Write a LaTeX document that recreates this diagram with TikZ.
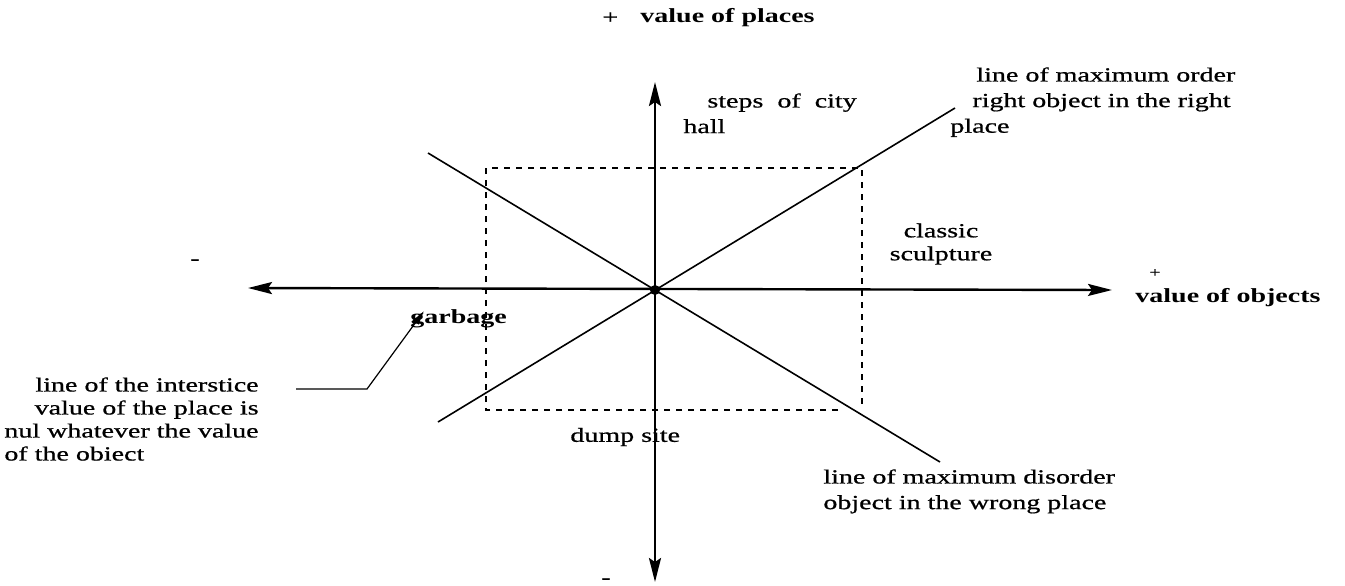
\documentclass[tikz,border=0pt]{standalone}
\usepackage{fontspec}
\setmainfont{Liberation Serif}[FakeStretch=1.4, UprightFeatures={FakeBold=0.8}]
\usetikzlibrary{arrows.meta,positioning,calc}

\begin{document}
\begin{tikzpicture}[x=0.5pt, y=-0.5pt,
  every node/.style={font=\fontsize{10}{11.5}\selectfont, inner sep=0pt},
  lblb/.style={font=\fontsize{10}{11.5}\selectfont\bfseries},
  wide/.style={font=\fontsize{10}{12.8}\selectfont},
  axis/.style={line width=1.2pt, {Stealth[length=12pt,width=6pt,inset=2pt]}-{Stealth[length=12pt,width=6pt,inset=2pt]}},
  diag/.style={line width=0.8pt},
  box/.style={line width=0.8pt, dash pattern=on 3pt off 3pt},
  lead/.style={line width=0.6pt, -{Latex[length=7pt,width=4pt]}}]
\useasboundingbox (0,0) rectangle (1345,585);
\coordinate (o) at (655,290);
\coordinate (xl) at (248,288);
\coordinate (xr) at (1112,290);
\coordinate (yt) at (655,82);
\coordinate (yb) at (655,582);
\coordinate (ordA) at (438,422);
\coordinate (ordB) at (955,108);
\coordinate (disA) at (428,153);
\coordinate (disB) at (940,462);
\coordinate (bxA) at (486,168);
\coordinate (bxB) at (862,410);
\node[anchor=west] (plust) at (602,18) {+};
\node[lblb, anchor=west] (places) at (640,18) {value of places};
\node[wide, anchor=north west, align=left] (steps) at (683,93) {\hspace*{12pt}steps\ \ of\ \ city\\hall};
\node[wide, anchor=north west, align=left] (order) at (950,67) {\hspace*{13pt}line of maximum order\\\hspace*{11pt}right object in the right\\place};
\node[align=center] (classic) at (941,244) {classic\\sculpture};
\node (plusr) at (1155,273) {\scriptsize +};
\node[lblb, anchor=west] (objects) at (1135,298) {value of objects};
\node (minusl) at (195,262) {-};
\node[lblb, anchor=west] (garbage) at (410,319) {garbage};
\node[anchor=north east, align=right] (inter) at (259,377) {line of the interstice\\value of the place is\\nul whatever the value\\\rlap{of the obiect}\phantom{nul whatever the value}};
\node[anchor=west] (dump) at (570,437) {dump site};
\node[wide, anchor=north west, align=left] (disorder) at (823,469) {line of maximum disorder\\object in the wrong place};
\node (minusb) at (606,581) {-};
\draw[axis] (xl) -- (xr);
\draw[axis] (yb) -- (yt);
\draw[diag] (ordA) -- (ordB);
\draw[diag] (disA) -- (disB);
\draw[box] (bxB -| bxA) ++(352,0) -- (bxB -| bxA) -- (bxA) -- (bxA -| bxB) -- ++(0,237);
\fill (o) circle (5);
\coordinate (lk1) at ($(inter.north east)+(37,12)$);
\coordinate (lk2) at ($(lk1)+(71,0)$);
\draw[lead] (lk1) -- (lk2) -- ([shift={(14,-8)}]garbage.west);
\end{tikzpicture}
\end{document}
